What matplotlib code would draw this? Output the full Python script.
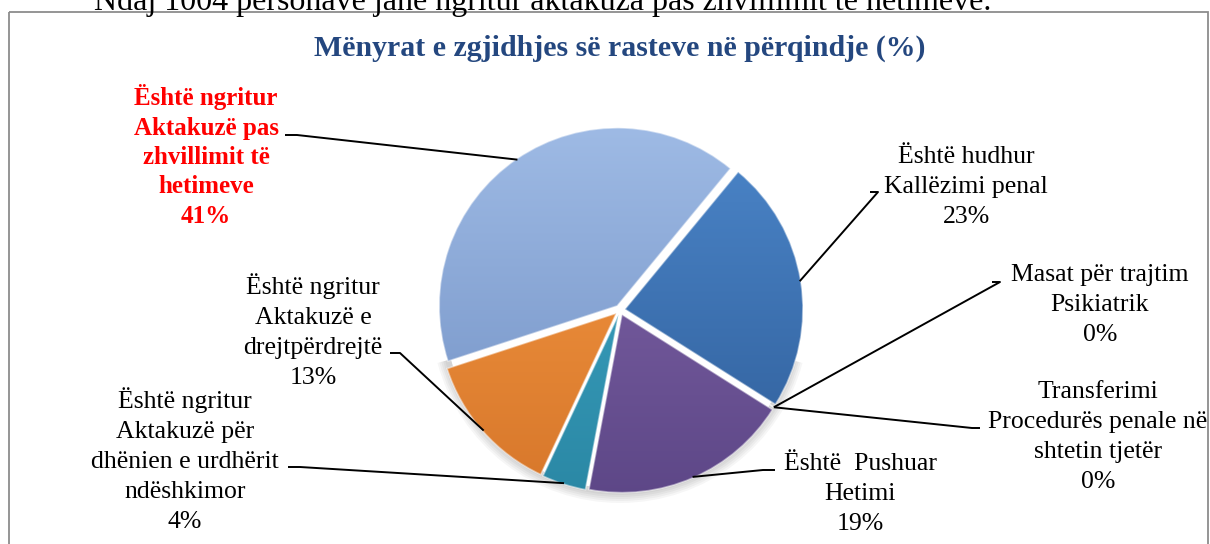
import numpy as np
import matplotlib
matplotlib.use("Agg")
import matplotlib.pyplot as plt
from matplotlib.colors import LinearSegmentedColormap
from matplotlib.patches import Rectangle, Wedge

# data (slice order as in the source sheet, drawn clockwise)
labels = ["Është hudhur\nKallëzimi penal",
          "Masat për trajtim\nPsikiatrik",
          "Transferimi\nProcedurës penale në\nshtetin tjetër",
          "Është  Pushuar\nHetimi",
          "Është ngritur\nAktakuzë për\ndhënien e urdhërit\nndëshkimor",
          "Është ngritur\nAktakuzë e\ndrejtpërdrejtë",
          "Është ngritur\nAktakuzë pas\nzhvillimit të\nhetimeve"]
values = [23, 0, 0, 19, 4, 13, 41]
pct_text = ["23%", "0%", "0%", "19%", "4%", "13%", "41%"]

title = "Mënyrat e zgjidhjes së rasteve në përqindje (%)"
top_line = "Ndaj 1004 personave janë ngritur aktakuza pas zhvillimit të hetimeve."

# gradient colours per slice (top, bottom)
grads = [("#4d88cc", "#2e5c97"),
         ("#c0504d", "#9c3a37"),
         ("#9bbb59", "#7a9a3e"),
         ("#8669ad", "#5c4686"),
         ("#40a9c8", "#2a87a4"),
         ("#f99c45", "#d6762a"),
         ("#a0bce6", "#6f8ec2")]

# label layout in pixels: text centre, knee of the leader line, end of leader
label_pos = [(966, 187), (1100, 305), (1098, 437), (860, 494),
             (185, 460), (313, 331), (206, 156)]
knees = [((878, 192), (870, 192)),
         ((1000, 282), (992, 282)),
         ((972, 428), (980, 428)),
         ((763, 470), (775, 470)),
         ((300, 467), (288, 467)),
         ((400, 353), (390, 353)),
         ((297, 135), (285, 135))]

W, H = 1210, 544
cx, cy, R = 620, 310, 178

fig = plt.figure(figsize=(W / 100, H / 100), dpi=100)
ax = fig.add_axes([0, 0, 1, 1])

serif = ["Liberation Serif", "DejaVu Serif"]

# chart frame
ax.add_patch(Rectangle((9, 12), 1199, 545, fill=False, edgecolor="#8c8c8c",
                       lw=1.3, zorder=1))

# soft shadow under the lower rim only
for i in range(5):
    ax.add_patch(Wedge((cx, cy + 4), R + 3 + i * 2, 15, 165, width=6 + i * 2,
                       color="#000000", alpha=0.035, lw=0, zorder=1))

# y axis points down, so counterclockwise in data is clockwise on screen
wedges, _ = ax.pie(values, startangle=-50.5, counterclock=True,
                   center=(cx, cy), radius=R, explode=[5] * len(values),
                   wedgeprops=dict(lw=1.2), frame=False)

grad = np.linspace(0, 1, 256).reshape(-1, 1)
for w, (c1, c2) in zip(wedges, grads):
    w.set_facecolor("none")
    w.set_edgecolor((1, 1, 1, 0.45))
    w.set_zorder(3)
    cmap = LinearSegmentedColormap.from_list("g", [c1, c2])
    im = ax.imshow(grad, extent=(cx - R - 20, cx + R + 20, cy + R + 20, cy - R - 20),
                   cmap=cmap, aspect="auto", zorder=2, interpolation="bilinear")
    im.set_clip_path(w)

# labels and leader lines
for i, w in enumerate(wedges):
    mid = np.deg2rad((w.theta1 + w.theta2) / 2)
    wx, wy = w.center
    ax_pt = (wx + (w.r - 1) * np.cos(mid), wy + (w.r - 1) * np.sin(mid))
    k1, k2 = knees[i]
    ax.plot([ax_pt[0], k1[0], k2[0]], [ax_pt[1], k1[1], k2[1]], color="black",
            lw=1.4, zorder=4, solid_capstyle="butt")
    txt = labels[i] + "\n" + pct_text[i]
    if i == 6:
        ax.text(*label_pos[i], txt, ha="center", va="center", fontsize=18,
                color="#ff0000", fontweight="bold", family=serif, linespacing=1.36)
    else:
        ax.text(*label_pos[i], txt, ha="center", va="center", fontsize=18.5,
                color="black", family=serif, linespacing=1.47)

ax.text(620, 48, title, ha="center", va="center", fontsize=21.5,
        fontweight="bold", color="#24477f", family=serif)
ax.text(94, 10, top_line, ha="left", va="baseline", fontsize=23,
        color="black", family=serif)

ax.set_xlim(0, W)
ax.set_ylim(H, 0)
ax.set_aspect("auto")
ax.axis("off")

fig.savefig("out.png", dpi=100)
